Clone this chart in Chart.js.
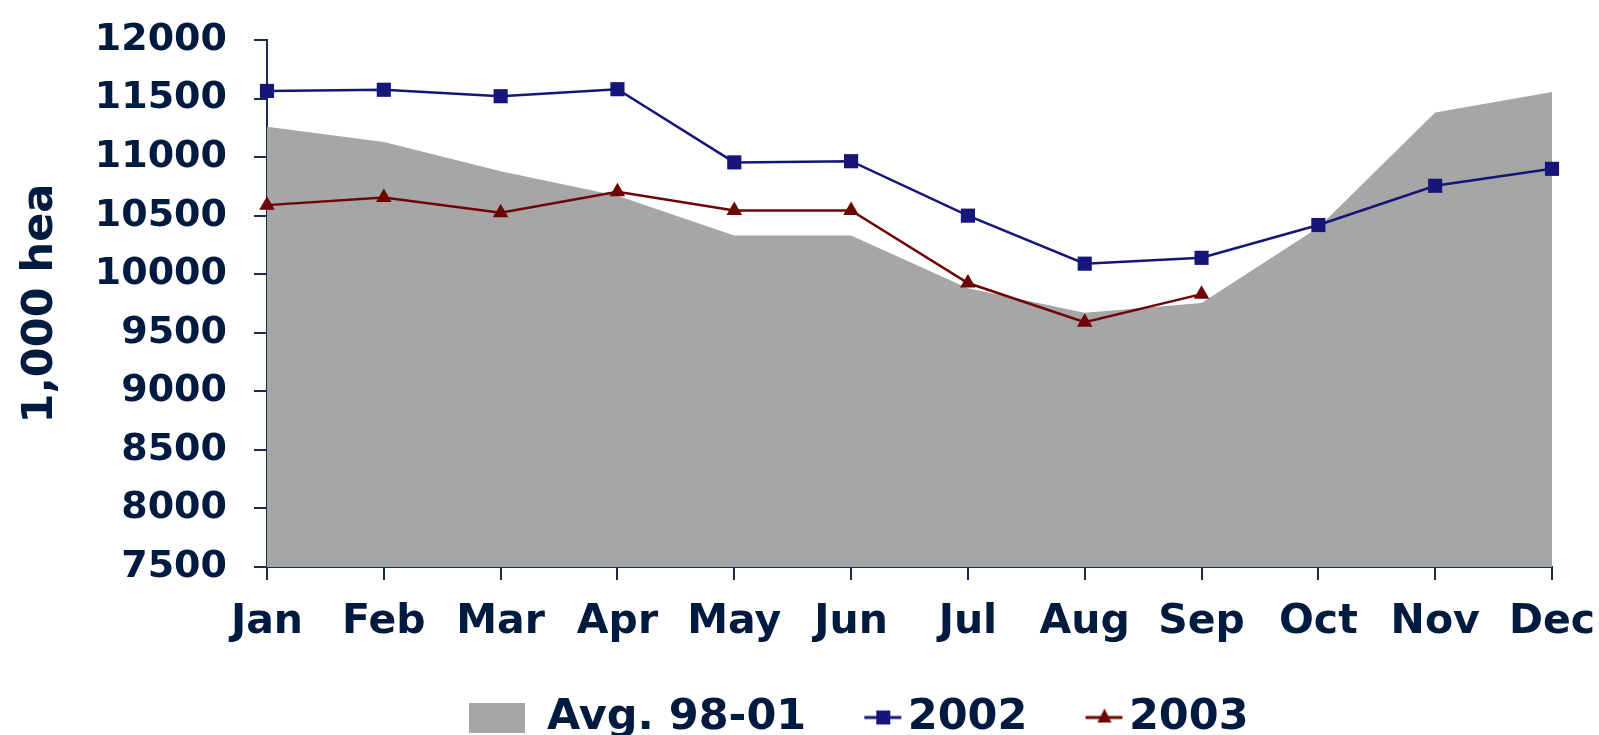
<!DOCTYPE html>
<html>
<head>
<meta charset="utf-8">
<script src="https://cdn.jsdelivr.net/npm/chart.js@4/dist/chart.umd.min.js"></script>
<style>
  html, body { margin: 0; padding: 0; background: #fff; }
  #wrap { position: relative; width: 1599px; height: 735px; }
</style>
</head>
<body>
<div id="wrap"><canvas id="chart"></canvas></div>
<script>
// Data
const months = ['Jan', 'Feb', 'Mar', 'Apr', 'May', 'Jun', 'Jul', 'Aug', 'Sep', 'Oct', 'Nov', 'Dec'];
const avg9801 = [11260, 11130, 10880, 10670, 10330, 10330, 9880, 9670, 9755, 10400, 11380, 11555];
const y2002 = [11565, 11575, 11520, 11580, 10955, 10965, 10500, 10090, 10140, 10420, 10755, 10900];
const y2003 = [10590, 10655, 10525, 10705, 10545, 10545, 9925, 9590, 9830, null, null, null];
const seriesNames = ['Avg. 98-01', '2002', '2003'];

const NAVY_TEXT = '#001a40';
const AXIS = '#1a2a50';
const GRAY = '#a6a6a6';
const BLUE = '#16167a';
const RED = '#6e0505';
const FONT = 'DejaVu Sans';

/* Small canvases used as legend symbols.
   Line symbols sit on the right half so they hug their label. */
function symbol(kind, color) {
  const c = document.createElement('canvas');
  if (kind === 'box') {
    c.width = 56; c.height = 30;
    const ctx = c.getContext('2d');
    ctx.fillStyle = color;
    ctx.fillRect(0, 0, 56, 30);
    return c;
  }
  c.width = 88; c.height = 30;
  const ctx = c.getContext('2d');
  ctx.strokeStyle = color;
  ctx.lineWidth = 3;
  ctx.beginPath();
  ctx.moveTo(50, 15); ctx.lineTo(87, 15);
  ctx.stroke();
  ctx.fillStyle = color;
  if (kind === 'square') {
    ctx.fillRect(62, 8, 14, 14);
  } else {
    ctx.beginPath();
    ctx.moveTo(69, 6); ctx.lineTo(76, 20); ctx.lineTo(62, 20);
    ctx.closePath(); ctx.fill();
  }
  return c;
}
const legendSymbols = [symbol('box', GRAY), symbol('square', BLUE), symbol('tri', RED)];

// move the legend row to where it sits in the picture
const legendShift = {
  id: 'legendShift',
  afterLayout(chart) {
    const lg = chart.legend;
    lg.left += 83; lg.right += 83;
  }
};

const canvas = document.getElementById('chart');
new Chart(canvas.getContext('2d'), {
  type: 'line',
  data: {
    labels: months,
    datasets: [
      {
        label: seriesNames[0],
        data: avg9801,
        fill: 'start',
        backgroundColor: GRAY,
        borderColor: 'rgba(0,0,0,0)',
        borderWidth: 0,
        pointRadius: 0,
        tension: 0
      },
      {
        label: seriesNames[1],
        data: y2002,
        borderColor: BLUE,
        backgroundColor: BLUE,
        borderWidth: 2.5,
        pointStyle: 'rect',
        pointRadius: 10,
        pointBorderWidth: 0,
        tension: 0
      },
      {
        label: seriesNames[2],
        data: y2003,
        borderColor: RED,
        backgroundColor: RED,
        borderWidth: 2.5,
        pointStyle: 'triangle',
        pointRadius: 9,
        pointBorderWidth: 0,
        spanGaps: false,
        tension: 0
      }
    ]
  },
  options: {
    responsive: true,
    maintainAspectRatio: false,
    animation: false,
    layout: { padding: { top: 40, right: 47, bottom: 0, left: 0 } },
    scales: {
      x: {
        offset: false,
        grid: { display: true, drawOnChartArea: false, drawTicks: true, tickLength: 13, color: AXIS, lineWidth: 2 },
        border: { display: true, color: AXIS, width: 2 },
        ticks: {
          color: NAVY_TEXT, padding: 18, maxRotation: 0, autoSkip: false,
          font: { family: FONT, size: 41, weight: 'bold' }
        },
        afterFit: s => { s.height = 105; s.paddingLeft = 0; s.paddingRight = 0; }
      },
      y: {
        min: 7500,
        max: 12000,
        grid: { display: true, drawOnChartArea: false, drawTicks: true, tickLength: 13, color: AXIS, lineWidth: 2 },
        border: { display: true, color: AXIS, width: 2 },
        ticks: {
          stepSize: 500, color: NAVY_TEXT, padding: 27,
          font: { family: FONT, size: 38, weight: 'bold' },
          callback: v => String(v)
        },
        title: {
          display: true,
          text: '1,000 hea',
          color: NAVY_TEXT,
          padding: { top: 15, bottom: 0 },
          font: { family: FONT, size: 43, weight: 'bold' }
        },
        afterFit: s => { s.width = 267; s.paddingTop = 0; s.paddingBottom = 0; }
      }
    },
    plugins: {
      filler: { drawTime: 'beforeDatasetsDraw' },
      tooltip: { enabled: false },
      legend: {
        display: true,
        position: 'bottom',
        align: 'center',
        maxHeight: 63,
        labels: {
          usePointStyle: true,
          pointStyleWidth: 56,
          padding: 24,
          color: NAVY_TEXT,
          font: { family: FONT, size: 43, weight: 'bold' },
          generateLabels: chart => chart.data.datasets.map((ds, i) => ({
            text: ds.label,
            pointStyle: legendSymbols[i],
            fillStyle: 'rgba(0,0,0,0)',
            strokeStyle: 'rgba(0,0,0,0)',
            lineWidth: 0,
            fontColor: NAVY_TEXT,
            hidden: false,
            datasetIndex: i
          }))
        }
      }
    }
  },
  plugins: [legendShift]
});
</script>
</body>
</html>
